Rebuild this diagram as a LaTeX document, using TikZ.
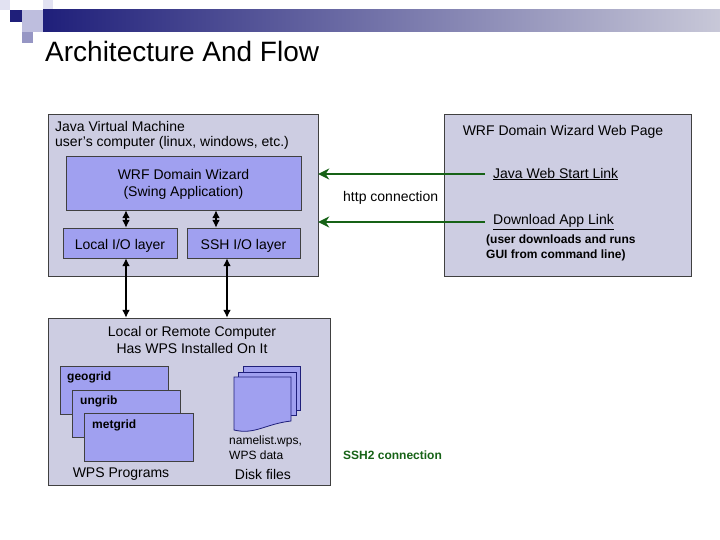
\documentclass[tikz,border=0pt]{standalone}
\usepackage{fontspec}
\setmainfont{Liberation Sans}
\usetikzlibrary{arrows.meta}
\definecolor{navy}{RGB}{31,31,122}
\definecolor{barend}{RGB}{200,200,216}
\definecolor{sqlight}{RGB}{226,226,242}
\definecolor{sqmid}{RGB}{190,190,222}
\definecolor{sqdark}{RGB}{150,150,196}
\definecolor{panelgray}{RGB}{205,205,226}
\definecolor{boxblue}{RGB}{160,160,240}
\definecolor{webgreen}{RGB}{22,98,22}
\tikzstyle{panel}   = [draw=black!75, fill=panelgray, inner sep=0pt]
\tikzstyle{bluebox} = [draw=black!75, fill=boxblue, inner sep=0pt, font=\fontsize{14}{17}\selectfont]
\tikzstyle{layer}   = [bluebox, minimum height=30, text height=14pt, text depth=2pt]
\tikzstyle{txt}     = [inner sep=0pt, font=\fontsize{14}{17}\selectfont]
\tikzstyle{small}   = [inner sep=0pt, font=\fontsize{12}{15}\selectfont]
\tikzstyle{prog}    = [inner sep=0pt, font=\bfseries\fontsize{12}{15}\selectfont]
\tikzstyle{bothway} = [line width=2pt, arrows={Latex[length=8pt,width=8pt]-Latex[length=8pt,width=8pt]}]
\tikzstyle{webarrow} = [draw=webgreen, line width=2.2pt, arrows={-Stealth[length=11pt,width=11pt]}]
\tikzstyle{page}    = [draw=navy, fill=boxblue, line width=.8pt]

\begin{document}
\begin{tikzpicture}[x=1pt,y=-1pt]
      \useasboundingbox (0,0) rectangle (720,540);
      % header strip
      \fill[sqlight]      (0,0)   rectangle (10,10);
      \fill[sqlight]      (43,0)  rectangle (53,10);
      \fill[sqmid]        (22,10) rectangle (43,22);
      \fill[navy]         (10,10) rectangle (22,22);
      \fill[sqmid]        (22,22) rectangle (43,32);
      \fill[sqdark]       (22,32) rectangle (33,43);
      \shade[left color=navy, right color=barend] (43,10) rectangle (720,32);
      \node[anchor=west, inner sep=0pt, font=\fontsize{28}{30}\selectfont] (title) at (45,51) {Architecture And Flow};

      % user's computer
      \node[panel, minimum width=270, minimum height=162] (jvm) at (183,195) {};
      \node[txt, anchor=west] (jvmname) at (55,126) {Java Virtual Machine};
      \node[txt, anchor=west] (jvmos)   at (55,143) {user's computer (linux, windows, etc.)};
      \node[bluebox, minimum width=235, minimum height=54, align=center, text depth=0pt] (wizard) at (183.5,183)
            {WRF Domain Wizard\\(Swing Application)};
      \node[layer, minimum width=114] (localio) at (120,243)   {Local I/O layer};
      \node[layer, minimum width=113] (sshio)   at (243.5,243) {SSH I/O layer};

      % web page
      \node[panel, minimum width=247, minimum height=162] (web) at (567.5,195) {};
      \node[txt] (webname) at (563,132) {WRF Domain Wizard Web Page};
      \node[txt, anchor=west, inner xsep=8pt] (jwslink) at (485,174) {\underline{Java Web Start Link}};
      \node[txt, anchor=west, inner xsep=8pt] (dllink)  at (485,222) {\underline{Download App Link}};
      \node[prog, anchor=north west, align=left] (dlnote) at (486,235)
            {(user downloads and runs\\GUI from command line)};
      \node[txt, anchor=west] (http) at (343,198) {http connection};

      % remote computer
      \node[panel, minimum width=282, minimum height=167] (remote) at (189,401.5) {};
      \node[txt, align=center] (remotename) at (192,340) {Local or Remote Computer\\Has WPS Installed On It};
      \node[bluebox, minimum width=108, minimum height=48] (geogrid) at (114,390)   {};
      \node[bluebox, minimum width=108, minimum height=47] (ungrib)  at (126,413.5) {};
      \node[bluebox, minimum width=109, minimum height=48] (metgrid) at (138.5,437) {};
      \node[prog, anchor=west] (geoname) at (67,377) {geogrid};
      \node[prog, anchor=west] (ungname) at (80,401) {ungrib};
      \node[prog, anchor=west] (metname) at (92,425) {metgrid};
      \node[txt] (progs) at (121,474) {WPS Programs};
      \draw[page] (243,366) rectangle (300,410);
      \draw[page] (238,372) rectangle (296,415);
      \draw[page] (234,377) -- (291,377) -- (291,421) .. controls (265,424) and (255,435) .. (234,430) -- cycle;
      \node[small, anchor=north west, align=left] (namelist) at (229,436) {namelist.wps,\\WPS data};
      \node[txt] (disk) at (263,474) {Disk files};
      \node[prog, anchor=west, text=webgreen] (ssh) at (343,455) {SSH2 connection};

      % connections
      \draw[bothway] ([xshift=6pt]localio.north)    -- ([xshift=6pt]localio.north |- wizard.south);
      \draw[bothway] ([xshift=-27.5pt]sshio.north)  -- ([xshift=-27.5pt]sshio.north |- wizard.south);
      \draw[bothway] ([xshift=6pt]localio.south)    -- ([xshift=6pt]localio.south |- remote.north);
      \draw[bothway] ([xshift=-16.5pt]sshio.south)  -- ([xshift=-16.5pt]sshio.south |- remote.north);
      \draw[webarrow] (jwslink.west) -- (jwslink.west -| jvm.east);
      \draw[webarrow] (dllink.west)  -- (dllink.west -| jvm.east);
    \end{tikzpicture}
\end{document}
